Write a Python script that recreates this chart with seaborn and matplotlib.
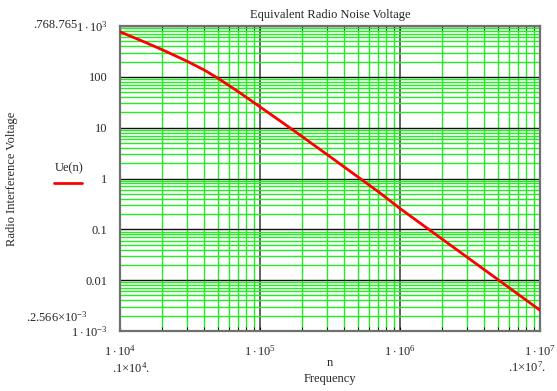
import matplotlib
matplotlib.use("Agg")
import matplotlib.pyplot as plt
import seaborn as sns
from matplotlib.lines import Line2D
from matplotlib.ticker import FixedLocator, FixedFormatter, LogLocator, NullFormatter

# Data
freq = [1e4, 1.5e4, 2e4, 3e4, 4e4, 5e4, 6e4, 7e4, 1e5, 1.5e5, 2e5, 3e5,
        5e5, 7e5, 1e6, 2e6, 5e6, 1e7]
ue = [768.765, 483, 342, 204, 136, 94, 67.5, 51, 25.7, 11.75, 6.68, 2.99,
      1.076, 0.55, 0.257, 0.0643, 0.0103, 0.002566]

x_ticks = [1e4, 1e5, 1e6, 1e7]
x_labels = [r"$1\cdot10^{4}$", r"$1\cdot10^{5}$", r"$1\cdot10^{6}$", r"$1\cdot10^{7}$"]
y_ticks = [1e-3, 1e-2, 1e-1, 1, 10, 100, 1e3]
y_labels = [r"$1\cdot10^{-3}$", "0.01", "0.1", "1", "10", "100", r"$1\cdot10^{3}$"]

sns.set_style("white")
plt.rcParams["font.family"] = ["Liberation Serif", "DejaVu Serif"]
plt.rcParams["mathtext.fontset"] = "custom"
plt.rcParams["mathtext.rm"] = "Liberation Serif"
plt.rcParams["mathtext.it"] = "Liberation Serif:italic"

fig = plt.figure(figsize=(5.57, 3.91), dpi=100)
ax = fig.add_axes([120 / 557, 1 - 331 / 391, 420 / 557, 305 / 391])
ax.set_xscale("log")
ax.set_yscale("log")

sns.lineplot(x=freq, y=ue, ax=ax, color="red", linewidth=2.0, legend=False, zorder=5)

ax.set_xlim(1e4, 1e7)
ax.set_ylim(1e-3, 1e3)

# grid: green minor, dark major
ax.xaxis.set_minor_locator(LogLocator(base=10, subs=range(2, 10)))
ax.yaxis.set_minor_locator(LogLocator(base=10, subs=range(2, 10)))
ax.xaxis.set_minor_formatter(NullFormatter())
ax.yaxis.set_minor_formatter(NullFormatter())
ax.grid(True, which="minor", color="#22ee22", linewidth=1.0)
ax.grid(True, which="major", axis="y", color="#111111", linewidth=1.0)
ax.grid(True, which="major", axis="x", color="#555555", linewidth=1.3)

ax.xaxis.set_major_locator(FixedLocator(x_ticks))
ax.xaxis.set_major_formatter(FixedFormatter(x_labels))
ax.yaxis.set_major_locator(FixedLocator(y_ticks))
ax.yaxis.set_major_formatter(FixedFormatter(y_labels))
ax.tick_params(axis="both", which="both", direction="in", length=3, color="black",
               labelsize=9, top=True, bottom=True, left=False, right=False)
ax.tick_params(axis="x", which="major", pad=9)
ax.tick_params(axis="y", which="major", pad=9)

for side in ax.spines.values():
    side.set_color("#707070")
    side.set_linewidth(1.6)

ax.set_title("Equivalent Radio Noise Voltage", fontsize=9, pad=6)
ax.set_ylabel("Radio Interference Voltage", fontsize=9)
ax.yaxis.set_label_coords(-0.243, 0.5)
ax.set_xlabel("n\nFrequency", fontsize=9, linespacing=1.5)
ax.xaxis.set_label_coords(0.5, -0.085)

# Mathcad-style range labels
fig.text(77 / 557, 1 - 25 / 391, ".768.765", fontsize=9, ha="right", va="center")
fig.text(88 / 557, 1 - 317 / 391, r".$2.566{\times}10^{-3}$", fontsize=9, ha="right", va="center")
fig.text(131 / 557, 1 - 368 / 391, r".$1{\times}10^{4}$.", fontsize=9, ha="center", va="center")
fig.text(527 / 557, 1 - 367 / 391, r".$1{\times}10^{7}$.", fontsize=9, ha="center", va="center")

# legend sample to the left of the plot
fig.text(69 / 557, 1 - 168 / 391, "Ue(n)", fontsize=9, ha="center", va="center")
fig.add_artist(Line2D([54 / 557, 82 / 557], [1 - 183 / 391, 1 - 183 / 391],
                      color="red", linewidth=2.0, transform=fig.transFigure))

fig.savefig("out.png", dpi=100)
